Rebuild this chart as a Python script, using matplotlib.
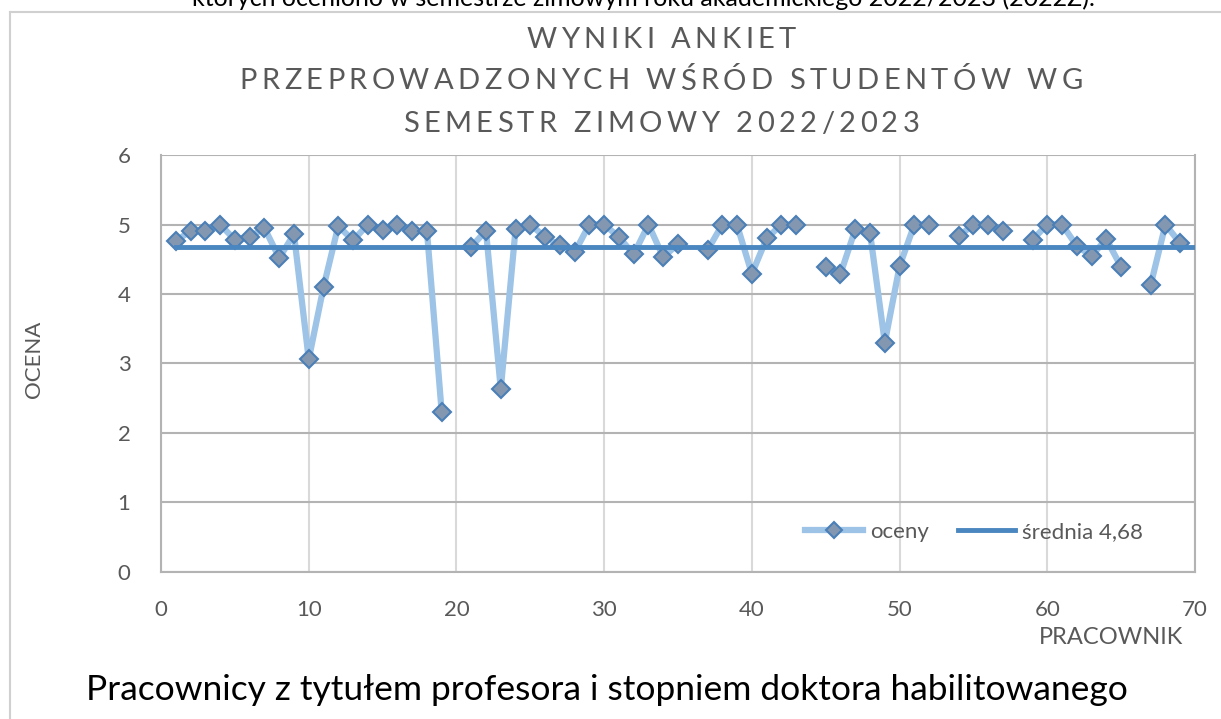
import matplotlib
matplotlib.use("Agg")
import matplotlib.pyplot as plt
import numpy as np

pracownik = list(range(1, 70))
oceny = [4.76, 4.91, 4.91, 5.00, 4.78, 4.82, 4.95, 4.52, 4.86, 3.06,
         4.10, 4.98, 4.77, 5.00, 4.92, 5.00, 4.90, 4.91, 2.30, None,
         4.68, 4.91, 2.63, 4.93, 5.00, 4.82, 4.70, 4.60, 5.00, 5.00,
         4.82, 4.57, 5.00, 4.53, 4.72, None, 4.63, 5.00, 4.99, 4.29,
         4.80, 5.00, 5.00, None, 4.39, 4.29, 4.93, 4.88, 3.30, 4.40,
         5.00, 5.00, None, 4.83, 5.00, 5.00, 4.90, None, 4.78, 5.00,
         5.00, 4.69, 4.55, 4.79, 4.39, None, 4.13, 5.00, 4.73]
srednia = 4.68
srednia_x = [1, 70]

title_lines = ["WYNIKI ANKIET", "PRZEPROWADZONYCH WŚRÓD STUDENTÓW WG",
               "SEMESTR ZIMOWY 2022/2023"]
caption = "Pracownicy z tytułem profesora i stopniem doktora habilitowanego"
top_text = "których oceniono w semestrze zimowym roku akademickiego 2022/2023 (2022Z)."

plt.rcParams['font.family'] = ['Lato', 'DejaVu Sans']
W, H = 1221, 719
fig = plt.figure(figsize=(W / 100, H / 100), dpi=100)
ax = fig.add_axes([0.1319, 0.2045, 0.9787 - 0.1319, 0.7844 - 0.2045])

y = np.array([np.nan if v is None else v for v in oceny])
x = np.array(pracownik)
ax.plot(x, y, color='#9dc3e6', lw=4.5, marker='D', markersize=9,
        markerfacecolor='#8497b0', markeredgecolor='#4a7fb8', markeredgewidth=1.5,
        label='oceny', zorder=3)
ax.plot(srednia_x, [srednia, srednia], color='#4a86c0', lw=3.5,
        label='średnia 4,68', zorder=4)

ax.set_xlim(0, 70)
ax.set_ylim(0, 6)
ax.set_xticks(range(0, 71, 10))
ax.set_yticks(range(0, 7))
ax.tick_params(length=0, labelsize=16, labelcolor='#595959')
ax.tick_params(axis='x', pad=20)
ax.tick_params(axis='y', pad=22)
ax.xaxis.grid(True, color='#d9d9d9', lw=1.5)
ax.yaxis.grid(True, color='#b3b3b3', lw=1.5)
ax.set_axisbelow(True)
ax.spines['top'].set_visible(False)
for s in ['left', 'right', 'bottom']:
    ax.spines[s].set_color('#b3b3b3')
    ax.spines[s].set_linewidth(1.5)

fig.text(0.028, 0.5, 'OCENA', rotation=90, fontsize=16, color='#595959',
         ha='center', va='center')
fig.text(0.969, 0.114, 'PRACOWNIK', fontsize=17, color='#595959',
         ha='right', va='center')

# letter-spaced title
renderer = fig.canvas.get_renderer()
title_fs = 21
title_y_px = [40, 81, 124]
title_cx_px = 661
target_w = 843  # width of the second line in pixels


def char_widths(s):
    ws = []
    for ch in s:
        t = fig.text(0, 0, ch, fontsize=title_fs)
        ws.append(t.get_window_extent(renderer).width)
        t.remove()
    return ws


ws2 = char_widths(title_lines[1])
spacing = (target_w - sum(ws2)) / (len(title_lines[1]) - 1)
for line, ypx in zip(title_lines, title_y_px):
    ws = char_widths(line)
    total = sum(ws) + spacing * (len(line) - 1)
    xpos = title_cx_px - total / 2
    for ch, w in zip(line, ws):
        fig.text(xpos / W, 1 - ypx / H, ch, fontsize=title_fs, color='#595959',
                 ha='left', va='center')
        xpos += w + spacing

leg = ax.legend(loc='center right', bbox_to_anchor=(0.9497, 0.096), frameon=False,
                fontsize=16, labelcolor='#595959', ncol=2, handlelength=2.6,
                columnspacing=1.3, handletextpad=0.3, borderpad=0, borderaxespad=0,
                markerscale=0.9)

fig.text(0.497, 0.04, caption, fontsize=25.5, color='black', ha='center', va='center')
fig.text(0.527, 1.003, top_text, fontsize=18, color='black', ha='center', va='center')

fig.add_artist(plt.Line2D([0.0082, 1.0], [0.983, 0.983], color='#d0d0d0', lw=1.5,
                          transform=fig.transFigure))
fig.add_artist(plt.Line2D([0.0082, 0.0082], [0.0, 0.983], color='#d0d0d0', lw=1.5,
                          transform=fig.transFigure))

fig.savefig('out.png', dpi=100)
